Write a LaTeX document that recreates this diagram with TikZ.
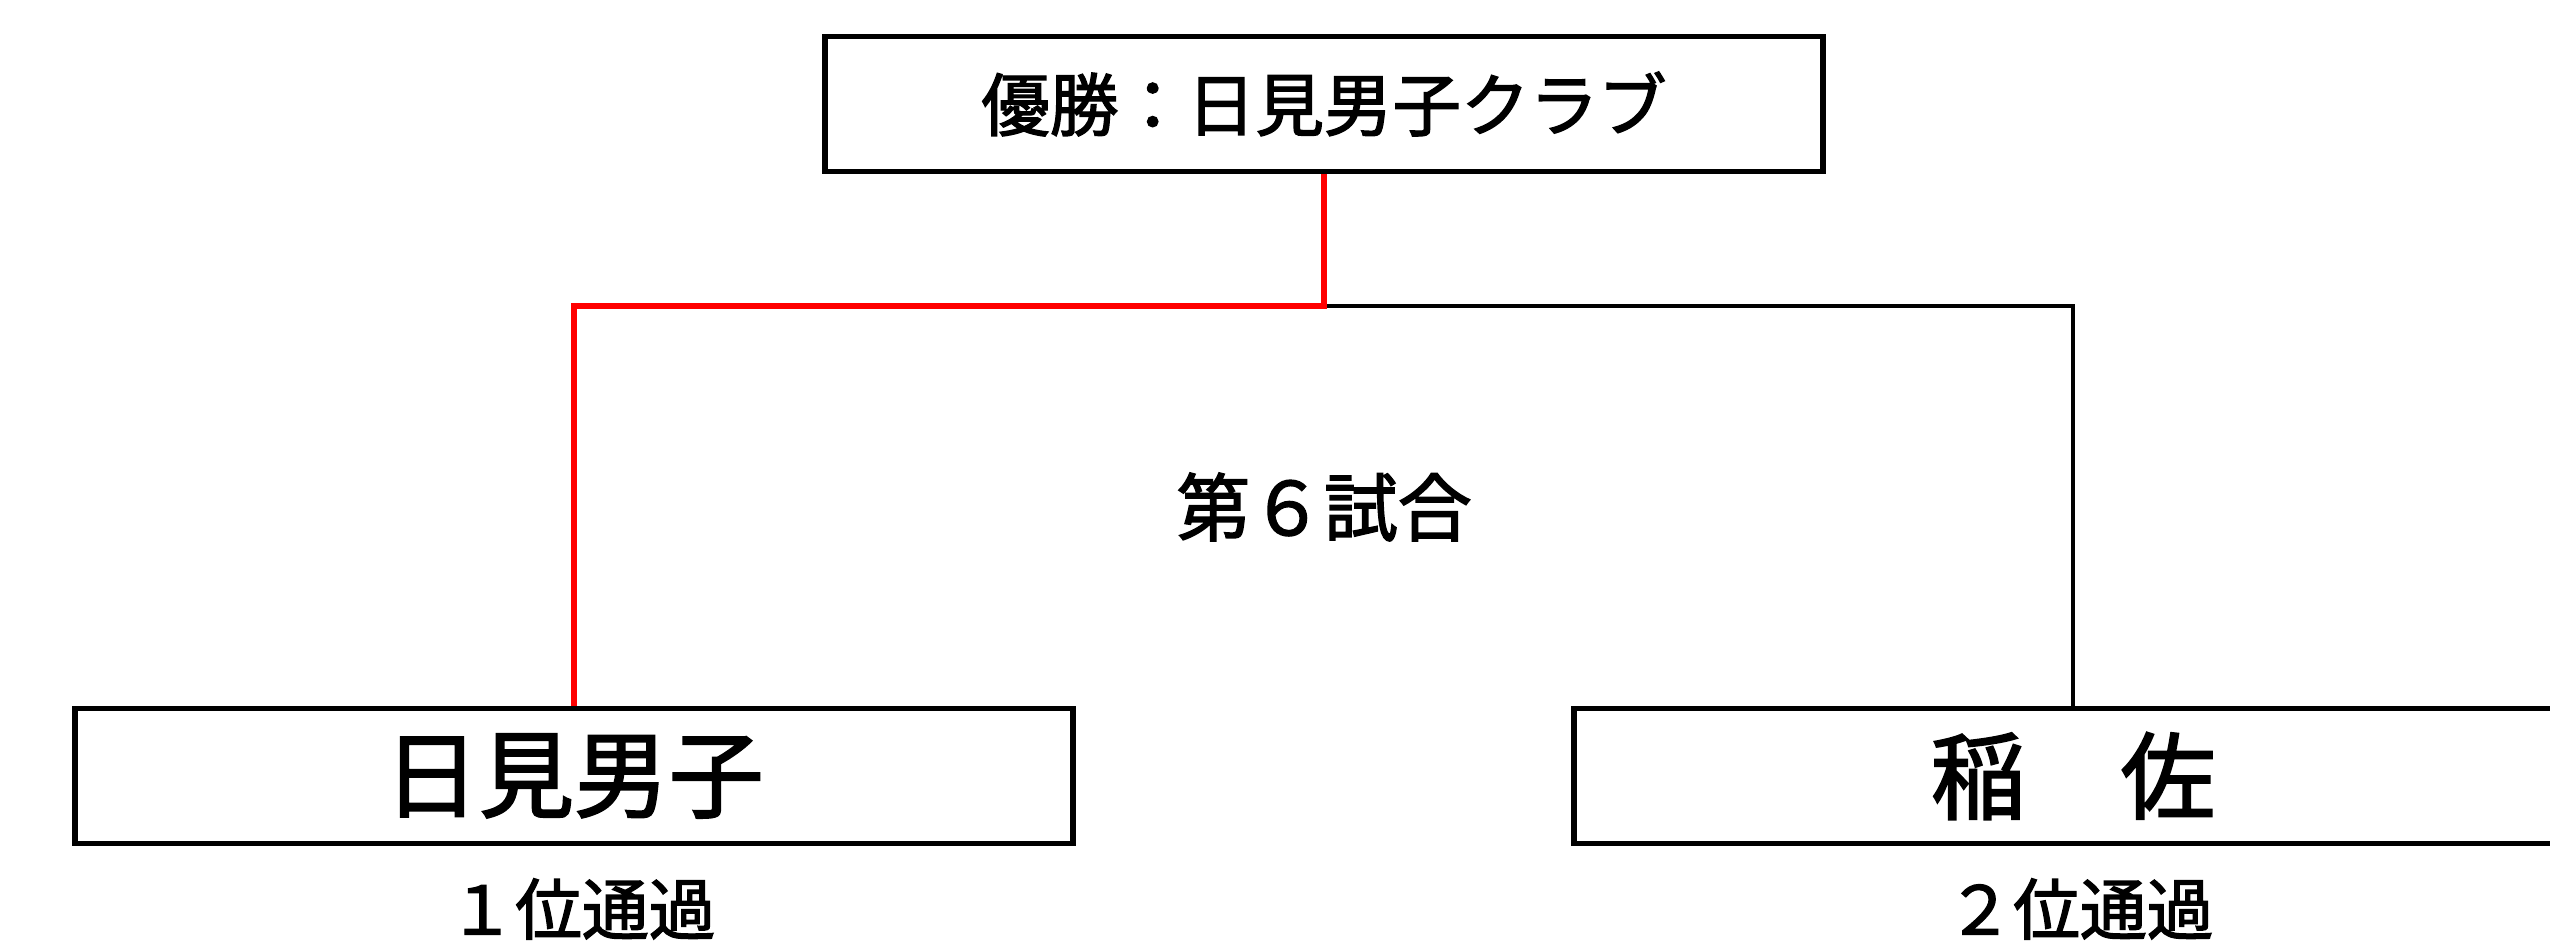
\documentclass[tikz,border=0pt]{standalone}
\usepackage{fontspec}
\newfontfamily\jpfont{Noto Sans CJK JP}[FakeBold=2]
\usetikzlibrary{calc}
\tikzset{
  team/.style={draw,line width=1.6pt,minimum width=99.8mm,minimum height=13.5mm,inner sep=0pt},
  win/.style={color=red,line width=1.6pt},
  lose/.style={line width=1.1pt},
}
\begin{document}
\begin{tikzpicture}[x=0.1mm,y=-0.1mm,font=\jpfont]
\useasboundingbox (0,0) rectangle (2550,941);
\clip (0,0) rectangle (2550,941);
\node[team] (champ) at (1324,104) {\fontsize{19.5pt}{22pt}\selectfont 優勝：日見男子クラブ};
\node[team] (hiku) at (574,776) {\fontsize{27pt}{30pt}\selectfont 日見男子};
\node[team] (inasa) at (2073,776) {\fontsize{27pt}{30pt}\selectfont 稲　佐};
\coordinate (m6) at ($(champ.south)+(0,132)$);
\draw[lose] (m6) -| (inasa.north);
\draw[win] (champ.south) -- (m6) -| (hiku.north);
\node (g6) at (1324,507) {\fontsize{21pt}{24pt}\selectfont 第６試合};
\node (hikunote) at (582,909) {\fontsize{19pt}{22pt}\selectfont １位通過};
\node (inasanote) at (2080,909) {\fontsize{19pt}{22pt}\selectfont ２位通過};
\end{tikzpicture}
\end{document}
